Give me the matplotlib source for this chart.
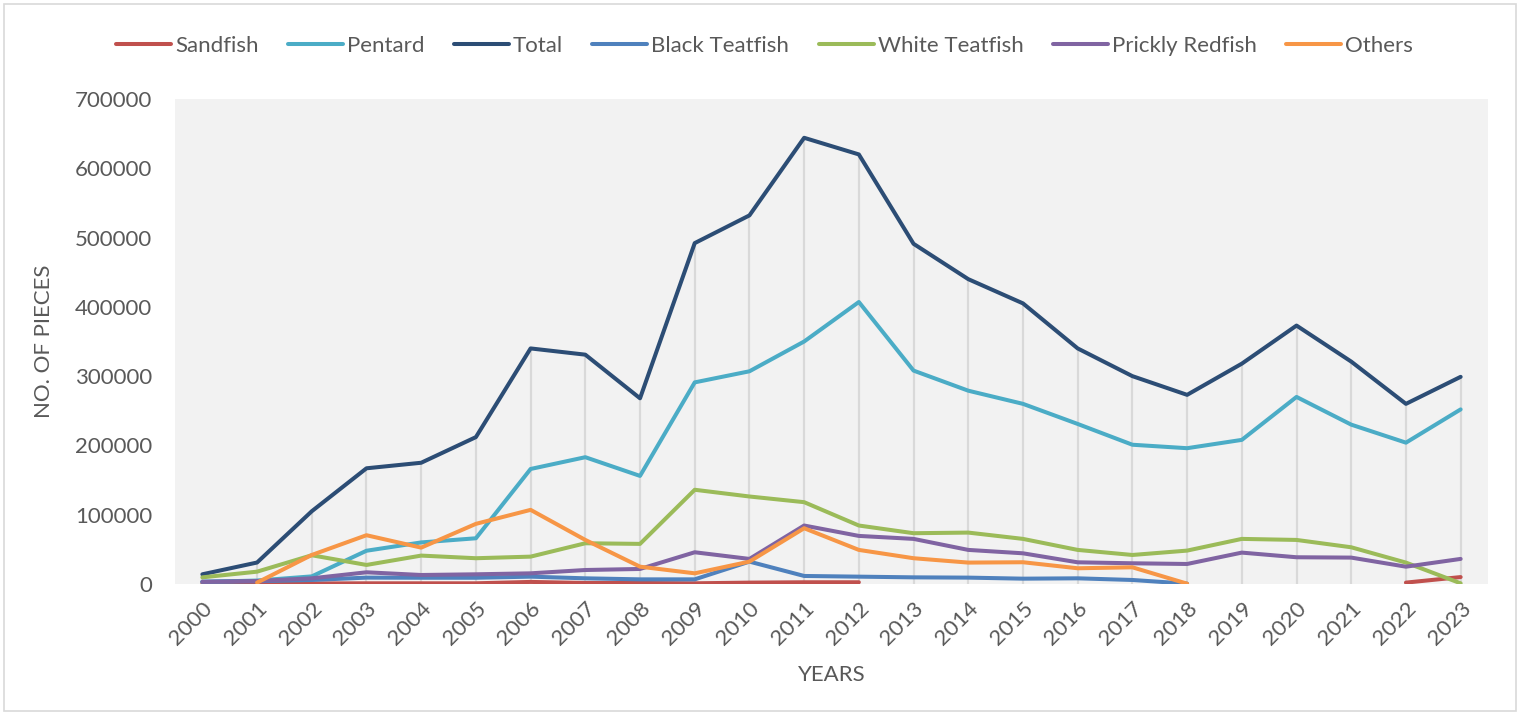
import numpy as np
import matplotlib
matplotlib.use("Agg")
import matplotlib.pyplot as plt
from matplotlib.patches import Rectangle

years = list(range(2000, 2024))
nan = np.nan

sandfish = [500, 500, 800, 1000, 1000, 1000, 3000, 1500, 1500, 1000, 2000, 2500, 2500,
            nan, nan, nan, nan, nan, nan, nan, nan, nan, 2000, 10000]
pentard = [3000, 5000, 11000, 48000, 60000, 66000, 166000, 183000, 156000, 291000, 307000, 350000,
           407000, 308000, 279000, 260000, 231000, 201000, 196000, 208000, 270000, 230000, 204000, 252000]
total = [14000, 31000, 105000, 167000, 175000, 212000, 340000, 331000, 268000, 492000, 532000, 644000,
         620000, 491000, 440000, 405000, 340000, 300000, 273000, 318000, 373000, 321000, 260000, 299000]
black_teatfish = [3400, 4000, 5800, 9200, 9000, 9000, 10600, 8200, 6700, 6700, 32300, 11600,
                  10600, 9600, 9200, 7700, 8200, 5800, 500, nan, nan, nan, nan, nan]
white_teatfish = [9600, 17800, 41500, 27500, 41000, 37200, 39500, 58800, 57900, 136000, 126300, 118100,
                  84400, 73300, 74200, 65100, 49200, 41900, 48200, 65100, 63600, 53000, 30900, 1000]
prickly_redfish = [3000, 4300, 8200, 16900, 13000, 14000, 15400, 20200, 21700, 45800, 36200, 84400,
                   69400, 65100, 49200, 44300, 31300, 29900, 28900, 45300, 38600, 38100, 25000, 36200]
others = [nan, 2000, 41900, 70400, 52500, 86800, 107000, 63600, 25000, 15400, 32300, 80500,
          49200, 37200, 30900, 31400, 22700, 24100, 500, nan, nan, nan, nan, nan]

series_names = ["Sandfish", "Pentard", "Total", "Black Teatfish",
                "White Teatfish", "Prickly Redfish", "Others"]
series_values = [sandfish, pentard, total, black_teatfish,
                 white_teatfish, prickly_redfish, others]
series_colors = ["#c0504d", "#4bacc6", "#2c4d75", "#4f81bd",
                 "#9bbb59", "#8064a2", "#f79646"]

y_ticks = [0, 100000, 200000, 300000, 400000, 500000, 600000, 700000]

plt.rcParams['font.family'] = ['Lato', 'DejaVu Sans']
text_color = "#595959"
fs = 16

fig = plt.figure(figsize=(15.2, 7.15), dpi=100)
fig.patch.set_facecolor("white")
ax = fig.add_axes([175 / 1520, 1 - 584 / 715, (1488 - 175) / 1520, (584 - 99) / 715])
ax.set_facecolor("#f2f2f2")

x = np.arange(len(years))

# drop lines from the total down to the axis
ax.vlines(x, 0, total, colors="#d9d9d9", linewidth=1.6, zorder=1)

for name, vals, col in zip(series_names, series_values, series_colors):
    ax.plot(x, vals, color=col, linewidth=2.9, label=name,
            solid_capstyle="round", solid_joinstyle="round", zorder=3)

ax.set_xlim(-0.5, len(years) - 0.5)
ax.set_ylim(0, 700000)
ax.set_yticks(y_ticks)
ax.set_yticklabels([str(v) for v in y_ticks])
ax.set_xticks(x)
ax.set_xticklabels([str(y) for y in years], rotation=45, ha="right", va="top",
                   rotation_mode="anchor")
ax.tick_params(axis="both", length=0, colors=text_color, labelsize=fs)
ax.tick_params(axis="y", pad=16.5)
ax.tick_params(axis="x", pad=10)
for sp in ax.spines.values():
    sp.set_visible(False)

ax.set_ylabel("NO. OF PIECES", color=text_color, fontsize=fs, labelpad=15)
ax.set_xlabel("YEARS", color=text_color, fontsize=fs, labelpad=12)

leg = fig.legend(loc="center", bbox_to_anchor=(0.503, 1 - 46 / 715), ncol=7,
                 frameon=False, fontsize=fs, handlelength=2.48, handletextpad=0.18,
                 columnspacing=1.32)
for t in leg.get_texts():
    t.set_color(text_color)

fig.patches.append(Rectangle((4 / 1520, 4 / 715), 1 - 8 / 1520, 1 - 8 / 715,
                             transform=fig.transFigure, fill=False,
                             edgecolor="#d9d9d9", linewidth=1.2))

fig.savefig("out.png", dpi=100)
